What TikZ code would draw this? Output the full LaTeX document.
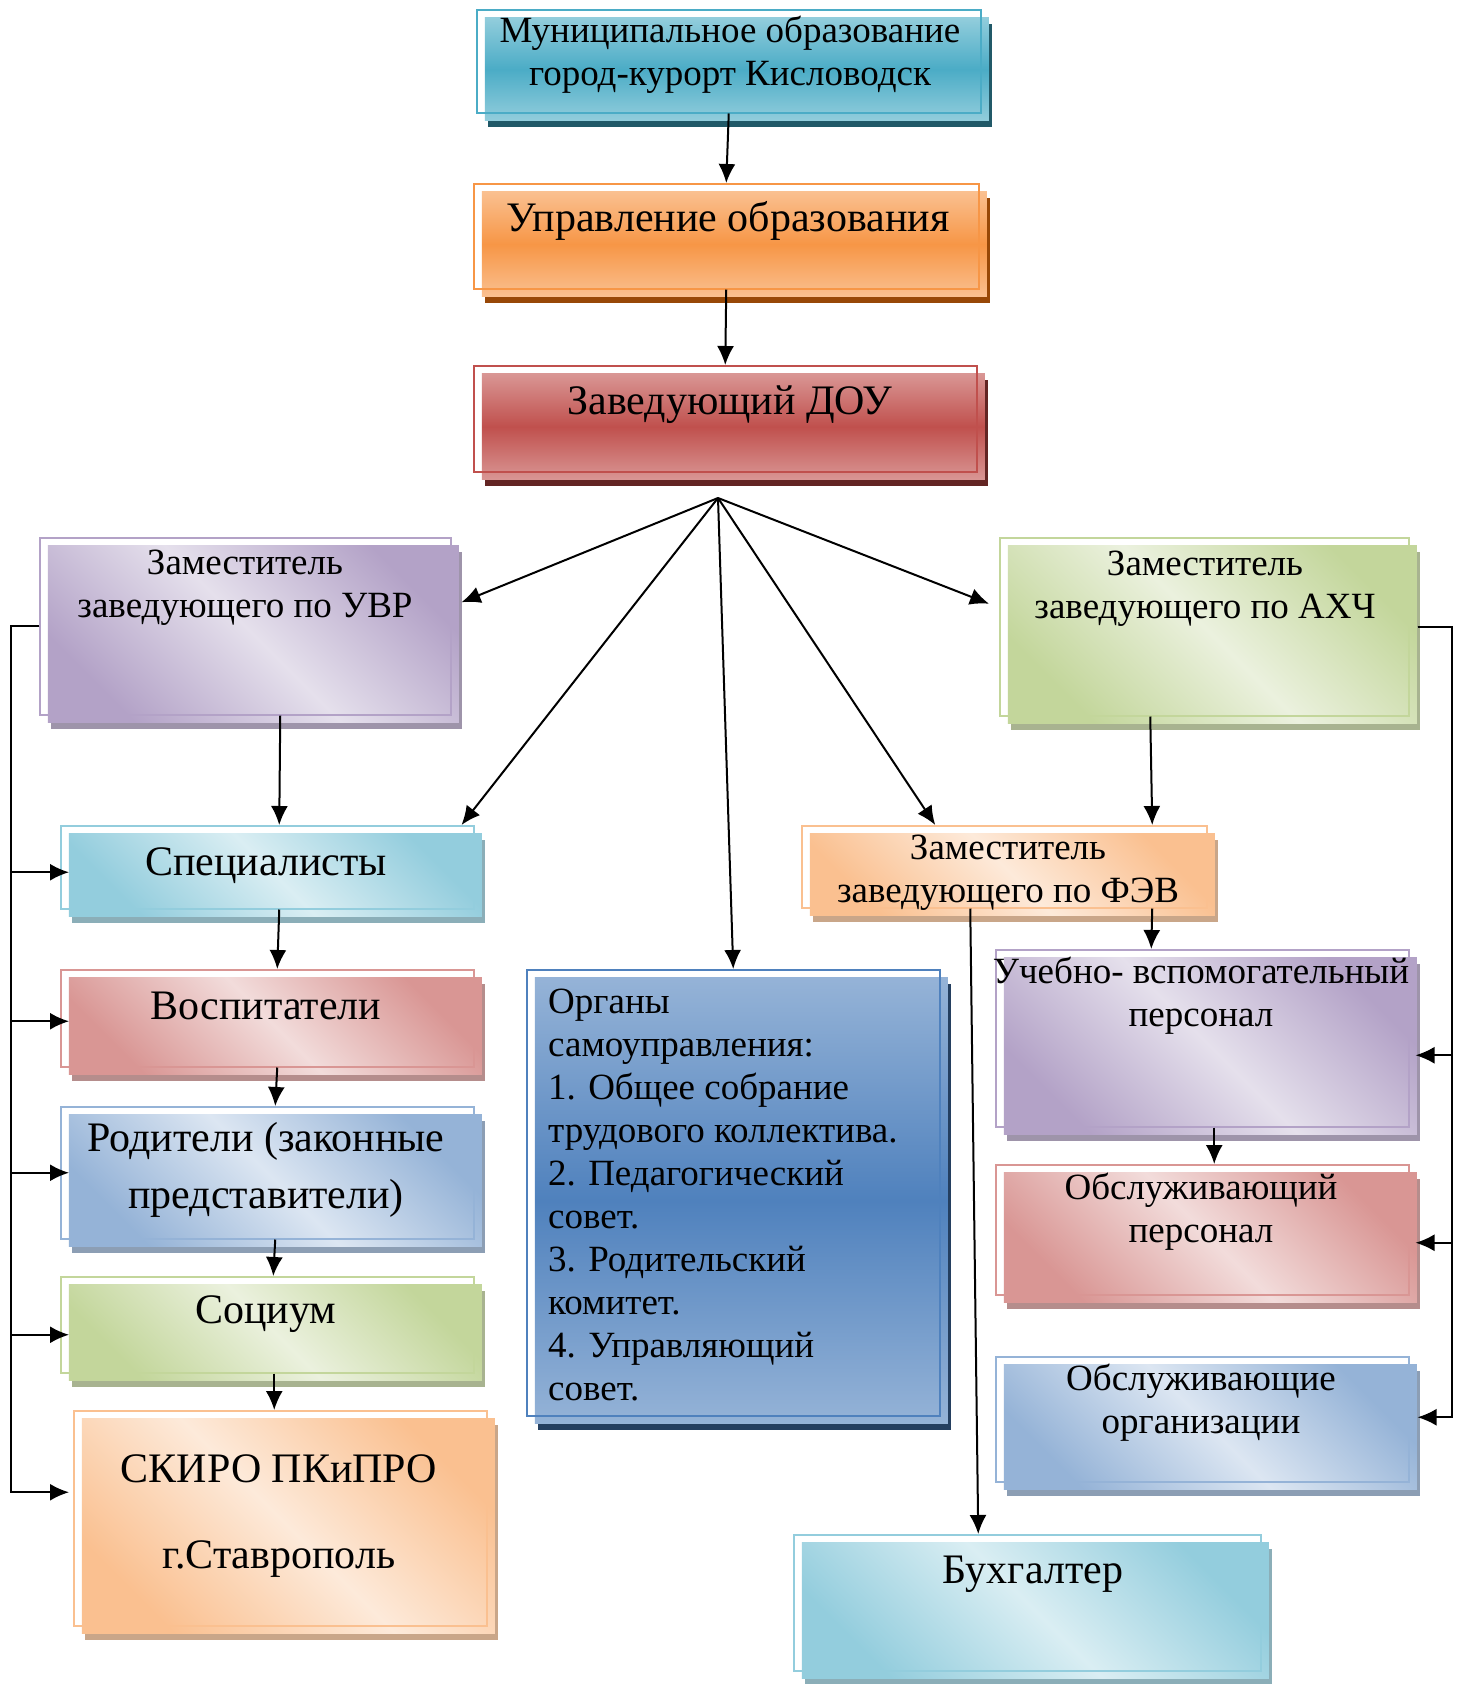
\documentclass[tikz,border=0pt]{standalone}
\usepackage{fontspec}
\setmainfont{Liberation Serif}
\usetikzlibrary{arrows.meta,shadows}
\definecolor{munL}{HTML}{92CDDC}
\definecolor{munD}{HTML}{4BACC6}
\definecolor{munS}{HTML}{215968}
\definecolor{uprL}{HTML}{FAC090}
\definecolor{uprD}{HTML}{F79646}
\definecolor{uprS}{HTML}{984807}
\definecolor{zavL}{HTML}{D99694}
\definecolor{zavD}{HTML}{C0504D}
\definecolor{zavS}{HTML}{632523}
\definecolor{orgL}{HTML}{95B3D7}
\definecolor{orgD}{HTML}{4F81BD}
\definecolor{orgS}{HTML}{243F60}
\definecolor{purL}{HTML}{E5E0EC}
\definecolor{purD}{HTML}{B3A2C7}
\definecolor{grnL}{HTML}{EBF1DE}
\definecolor{grnD}{HTML}{C3D69B}
\definecolor{cyaL}{HTML}{DAEEF3}
\definecolor{cyaD}{HTML}{93CDDD}
\definecolor{redL}{HTML}{F2DCDB}
\definecolor{redD}{HTML}{D99694}
\definecolor{bluL}{HTML}{DCE6F2}
\definecolor{bluD}{HTML}{95B3D7}
\definecolor{pchL}{HTML}{FDEADA}
\definecolor{pchD}{HTML}{FAC090}
\tikzset{
  box/.style n args={3}{draw=#2, line width=1.5pt, inner sep=0pt, anchor=north west,
    general shadow={shadow xshift=11pt, shadow yshift=-14pt, fill=#3},
    general shadow={shadow xshift=8pt, shadow yshift=-8pt, #1}},
  vshade/.style 2 args={top color=#1, bottom color=#1, middle color=#2},
  dshade/.style 2 args={top color=#2, bottom color=#2, middle color=#1, shading angle=-45},
  lbl/.style={align=center, inner sep=0pt, font=\fontsize{37}{43}\selectfont},
  big/.style={align=center, inner sep=0pt, font=\fontsize{42}{50}\selectfont},
  arr/.style={-{Latex[length=19pt,width=17pt]}, line width=2pt}
}
\begin{document}
\begin{tikzpicture}[x=1pt,y=-1pt]
\useasboundingbox (0,0) rectangle (1462,1684);
\fill[white] (0,0) rectangle (1462,1684);
% top chain
\node[box={vshade={munL}{munD}}{munD}{munS}, minimum width=504pt, minimum height=103pt] (mun) at (476,9) {};
\node[box={vshade={uprL}{uprD}}{uprD}{uprS}, minimum width=505pt, minimum height=105pt] (upr) at (473,183) {};
\node[box={vshade={zavL}{zavD}}{zavD}{zavS}, minimum width=503pt, minimum height=106pt] (zav) at (473,365) {};
% deputies
\node[box={dshade={purL}{purD}}{purD}{purD!60!gray}, minimum width=411pt, minimum height=177pt] (uvr) at (39,537) {};
\node[box={dshade={grnL}{grnD}}{grnD}{grnD!60!gray}, minimum width=409pt, minimum height=178pt] (ahch) at (999,537) {};
\node[box={dshade={pchL}{pchD}}{pchD}{pchD!60!gray}, minimum width=405pt, minimum height=82pt] (fev) at (801,825) {};
% left column
\node[box={dshade={cyaL}{cyaD}}{cyaD}{cyaD!60!gray}, minimum width=413pt, minimum height=83pt] (spec) at (60,825) {};
\node[box={dshade={redL}{redD}}{redD}{redD!60!gray}, minimum width=413pt, minimum height=97pt] (vosp) at (60,969) {};
\node[box={dshade={bluL}{bluD}}{bluD}{bluD!60!gray}, minimum width=413pt, minimum height=132pt] (rod) at (60,1106) {};
\node[box={dshade={grnL}{grnD}}{grnD}{grnD!60!gray}, minimum width=413pt, minimum height=96pt] (soc) at (60,1276) {};
\node[box={dshade={pchL}{pchD}}{pchD}{pchD!60!gray}, minimum width=413pt, minimum height=215pt] (skiro) at (73,1410) {};
% middle
\node[box={vshade={orgL}{orgD}}{orgD}{orgS}, minimum width=413pt, minimum height=446pt] (org) at (526,969) {};
\node[box={dshade={cyaL}{cyaD}}{cyaD}{cyaD!60!gray}, minimum width=467pt, minimum height=136pt] (buh) at (793,1534) {};
% right column
\node[box={dshade={purL}{purD}}{purD}{purD!60!gray}, minimum width=413pt, minimum height=177pt] (ucheb) at (995,949) {};
\node[box={dshade={redL}{redD}}{redD}{redD!60!gray}, minimum width=413pt, minimum height=130pt] (obsl) at (995,1164) {};
\node[box={dshade={bluL}{bluD}}{bluD}{bluD!60!gray}, minimum width=413pt, minimum height=125pt] (obslorg) at (995,1356) {};
% texts
\node[lbl] (tMun) at (730,55) {Муниципальное образование\\город-курорт Кисловодск};
\node[big] (tUpr) at (728,221) {Управление образования};
\node[big] (tZav) at (730,405) {Заведующий ДОУ};
\node[lbl] (tUvr) at (245,588) {Заместитель\\заведующего по УВР};
\node[lbl] (tAhch) at (1205,589) {Заместитель\\заведующего по АХЧ};
\node[lbl] (tFev) at (1008,873) {Заместитель\\заведующего по ФЭВ};
\node[big] (tSpec) at (266,866) {Специалисты};
\node[big] (tVosp) at (266,1006) {Воспитатели};
\node[big, font=\fontsize{42}{57}\selectfont] (tRod) at (266,1170) {Родители (законные\\представители)};
\node[big] (tSoc) at (266,1314) {Социум};
\node[big, font=\fontsize{42}{86}\selectfont] (tSkiro) at (279,1516) {СКИРО ПКиПРО\\г.Ставрополь};
\node[lbl, align=left, anchor=west] (tOrg) at (548,1195) {Органы\\самоуправления:\\1. Общее собрание\\трудового коллектива.\\2. Педагогический\\совет.\\3. Родительский\\комитет.\\4. Управляющий\\совет.};
\node[lbl] (tUcheb) at (1201,996) {Учебно- вспомогательный\\персонал};
\node[lbl] (tObsl) at (1201,1212) {Обслуживающий\\персонал};
\node[lbl] (tObslorg) at (1201,1403) {Обслуживающие\\организации};
\node[big] (tBuh) at (1033,1574) {Бухгалтер};
% connectors
\draw[arr] (mun.south) -- (upr.north);
\draw[arr] (upr.south) -- (zav.north);
\coordinate (hub) at (718,498);
\draw[arr] (hub) -- ([shift={(10,-24)}]uvr.east);
\draw[arr] (hub) -- ([xshift=-13pt]spec.north east);
\draw[arr] (hub) -- (org.north);
\draw[arr] (hub) -- ([xshift=-69pt]fev.north);
\draw[arr] (hub) -- ([shift={(-10,-23)}]ahch.west);
\draw[arr] ([xshift=35pt]uvr.south) -- ([xshift=12pt]spec.north);
\draw[arr] ([xshift=12pt]spec.south) -- ([xshift=10pt]vosp.north);
\draw[arr] ([xshift=10pt]vosp.south) -- ([xshift=8pt]rod.north);
\draw[arr] ([xshift=8pt]rod.south) -- ([xshift=6pt]soc.north);
\draw[arr] ([xshift=7pt]soc.south) -- ([xshift=-6pt]skiro.north);
\foreach \n/\dx/\dy in {spec/9/5,vosp/9/3,rod/9/0,soc/9/10,skiro/-4/-26}
  \draw[arr] (uvr.west) -- ++(-28,0) |- ([shift={(\dx,\dy)}]\n.west);
\draw[arr] ([xshift=-54pt]ahch.south) -- ([xshift=148pt]fev.north);
\draw[arr] ([xshift=148pt]fev.south) -- ([xshift=-51pt]ucheb.north);
\draw[arr] ([xshift=12pt]ucheb.south) -- ([xshift=12pt]obsl.north);
\draw[arr] ([xshift=-34pt]fev.south) -- ([xshift=-49pt]buh.north);
\foreach \n/\dx/\dy in {ucheb/6/17,obsl/6/13,obslorg/8/-2}
  \draw[arr] ([xshift=8pt]ahch.east) -- ++(34,0) |- ([shift={(\dx,\dy)}]\n.east);
\end{tikzpicture}
\end{document}
